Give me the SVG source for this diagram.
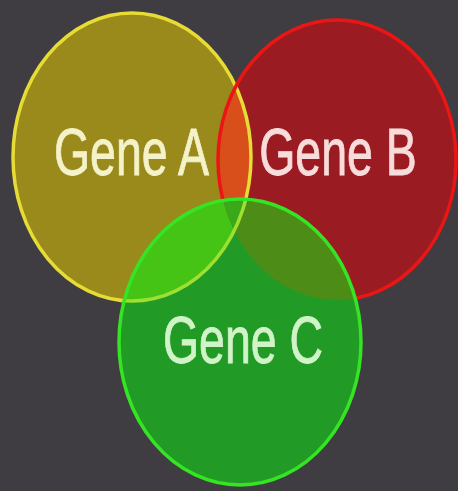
<svg xmlns="http://www.w3.org/2000/svg" width="458" height="491" viewBox="0 0 458 491">
  <defs>
    <style>
      .lbl { font-family: "Liberation Sans", Arial, sans-serif; font-size: 46.5px; text-anchor: middle; stroke-width: 0.6; }
      .edge { fill: none; stroke-width: 3.5; }
    </style>
    <clipPath id="clipA"><ellipse cx="132" cy="157" rx="119" ry="144"/></clipPath>
    <clipPath id="clipB"><ellipse cx="337" cy="160" rx="119" ry="140"/></clipPath>
    <clipPath id="clipC"><ellipse cx="240" cy="342" rx="121" ry="143"/></clipPath>
    <mask id="outC" maskUnits="userSpaceOnUse" x="0" y="0" width="458" height="491">
      <rect x="0" y="0" width="458" height="491" fill="#fff"/>
      <ellipse cx="240" cy="342" rx="120" ry="142" fill="#000"/>
    </mask>
    <filter id="soft" x="-5%" y="-5%" width="110%" height="110%"><feGaussianBlur stdDeviation="0.7"/></filter>
  </defs>
  <rect x="0" y="0" width="458" height="491" fill="#3f3d42"/>
  <g filter="url(#soft)">
    <g id="fills">
      <ellipse cx="132" cy="157" rx="119" ry="144" fill="#9a8a1c"/>
      <ellipse cx="337" cy="160" rx="119" ry="140" fill="#9a1d20"/>
      <ellipse cx="240" cy="342" rx="121" ry="143" fill="#249a26"/>
      <g clip-path="url(#clipA)">
        <ellipse cx="337" cy="160" rx="119" ry="140" fill="#d8501a"/>
        <ellipse cx="240" cy="342" rx="121" ry="143" fill="#44c416"/>
      </g>
      <g clip-path="url(#clipB)">
        <ellipse cx="240" cy="342" rx="121" ry="143" fill="#4e8c18"/>
      </g>
      <g clip-path="url(#clipA)">
        <g clip-path="url(#clipB)">
          <ellipse cx="240" cy="342" rx="121" ry="143" fill="#3aa81a"/>
        </g>
      </g>
    </g>
    <g id="gene-a">
      <ellipse class="edge" cx="132" cy="157" rx="119" ry="144" stroke="#e6dc34" mask="url(#outC)"/>
      <g clip-path="url(#clipC)">
        <ellipse class="edge" cx="132" cy="157" rx="119" ry="144" stroke="#9ee030" stroke-width="3"/>
      </g>
    </g>
    <g id="gene-b">
      <ellipse class="edge" cx="337" cy="160" rx="119" ry="140" stroke="#ea1616" stroke-width="4" mask="url(#outC)"/>
    </g>
    <g id="gene-c">
      <ellipse class="edge" cx="240" cy="342" rx="121" ry="143" stroke="#34e424"/>
    </g>
    <g id="labels">
      <text class="lbl" transform="translate(131.5,175) scale(1,1.42)" fill="#f4f2c8" stroke="#f4f2c8">Gene A</text>
      <text class="lbl" transform="translate(338,175) scale(1,1.42)" fill="#f8dcdc" stroke="#f8dcdc">Gene B</text>
      <text class="lbl" transform="translate(243,363) scale(1,1.45)" fill="#d0f4c8" stroke="#d0f4c8">Gene C</text>
    </g>
  </g>
</svg>
